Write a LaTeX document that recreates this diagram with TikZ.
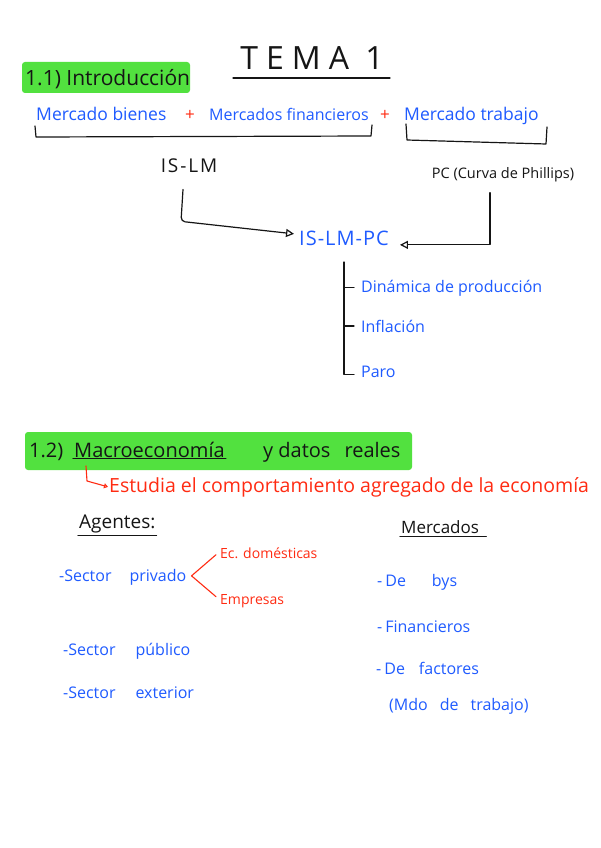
\documentclass[tikz,border=0pt]{standalone}
\usepackage{fontspec}
\setmainfont{Open Sans}
\usetikzlibrary{arrows.meta, positioning, calc}
\definecolor{inkblue}{HTML}{1F5BFF}
\definecolor{inkred}{HTML}{FF2B12}
\definecolor{inkmark}{HTML}{52E13F}
\definecolor{inkdark}{HTML}{151515}

\begin{document}
\begin{tikzpicture}[x=1pt, y=-1pt, line cap=round, line join=round,
  pen/.style={draw=inkdark, line width=1.2pt},
  txtblue/.style={text=inkblue, inner sep=1pt, font=\fontsize{16}{18}\selectfont},
  txtred/.style={text=inkred, inner sep=1pt, font=\fontsize{17}{19}\selectfont},
  txtdark/.style={text=inkdark, inner sep=1pt, font=\fontsize{15}{17}\selectfont},
  txthead/.style={text=inkdark, inner sep=1pt, font=\fontsize{20}{22}\selectfont},
  openhead/.style={-{Triangle[open, length=8pt, width=8pt]}}]
  \fill[white] (0,0) rectangle (600,848);
  \useasboundingbox (0,0) rectangle (600,848);
  \fill[inkmark, rounded corners=3pt] (22,62) rectangle (190,93);
  \fill[inkmark, rounded corners=3pt] (25,432) rectangle (412,470);

  \node[txthead, font=\fontsize{32}{34}\selectfont\addfontfeatures{LetterSpace=25}, anchor=base]
    (tema) at (312,70) {TEMA 1};
  \draw[pen] (233,78) -- (390,78);
  \node[txthead, font=\fontsize{21}{23}\selectfont, anchor=base west] (intro) at (24,86) {1.1) Introducción};

  \node[txtblue, font=\fontsize{17.5}{19}\selectfont, anchor=base west] (bienes) at (35,121) {Mercado bienes};
  \node[txtred, anchor=base] (plusa) at (190,121) {+};
  \node[txtblue, anchor=base west] (finan) at (208,121) {Mercados financieros};
  \node[txtred, anchor=base] (plusb) at (385,121) {+};
  \node[txtblue, font=\fontsize{17.5}{19}\selectfont, anchor=base west] (trabajo) at (403,121) {Mercado trabajo};
  \draw[pen] (35,126) -- (36,137) -- (371,136) -- (372,125);
  \draw[pen] (406,124) -- (407,140) -- (546,144) -- (547,127);

  \node[txtdark, font=\fontsize{19}{21}\selectfont\addfontfeatures{LetterSpace=10}, anchor=base]
    (islm) at (189,172) {IS-LM};
  \node[txtdark, font=\fontsize{14.5}{16}\selectfont, anchor=base] (pc) at (503,178) {PC (Curva de Phillips)};
  \node[txtblue, font=\fontsize{20}{22}\selectfont\addfontfeatures{LetterSpace=5}, anchor=base]
    (islmpc) at (344,245) {IS-LM-PC};

  \draw[pen, openhead, rounded corners=4pt]
    ($(islm.south)+(-6,16)$) -- ++(-2,32) -- ($(islmpc.west)+(-4,-4)$);
  \draw[pen, openhead]
    ($(pc.south)+(-13,10)$) |- ($(islmpc.east)+(10,7)$);

  \node[txtblue, anchor=base west] (dinamica) at (360,292) {Dinámica de producción};
  \node[txtblue, anchor=base west] (inflacion) at (360,332) {Inflación};
  \node[txtblue, anchor=base west] (paro) at (360,377) {Paro};
  \coordinate (tree) at (344,262);
  \draw[pen] (tree) |- ($(paro.west)+(-6,3)$);
  \foreach \item in {dinamica, inflacion}{%
    \draw[pen] (\item.west -| tree) -- ($(\item.west)+(-6,0)$);}

  \node[txthead, anchor=base west] (sec) at (28,457) {1.2)};
  \node[txthead, anchor=base west] (macro) at (73,457) {Macroeconomía};
  \draw[pen] (macro.south west) -- (macro.south east);
  \node[txthead, anchor=base west] (datos) at (262,457) {y datos\hspace{14pt}reales};

  \node[txtred, font=\fontsize{19.5}{21}\selectfont, anchor=base west] (estudia) at (108,492)
    {Estudia el comportamiento agregado de la economía};
  \draw[draw=inkred, line width=1.1pt, -{Triangle[open, length=4pt, width=5pt]}]
    (86,466) -- (87,481) -- (estudia.west);

  \node[txthead, font=\fontsize{19}{21}\selectfont, anchor=base west] (agentes) at (78,528) {Agentes:};
  \draw[pen] ($(agentes.south west)+(0,2)$) -- ($(agentes.south east)+(0,2)$);
  \node[txthead, font=\fontsize{17}{19}\selectfont, anchor=base west] (mercados) at (400,533) {Mercados};
  \draw[pen] ($(mercados.south west)+(0,2)$) -- ($(mercados.south east)+(6,2)$);

  \node[txtblue, anchor=base west] (privado) at (58,581) {-Sector\hspace{18pt}privado};
  \node[txtred, font=\fontsize{14}{16}\selectfont, anchor=base west] (domest) at (219,558) {Ec. domésticas};
  \node[txtred, font=\fontsize{14}{16}\selectfont, anchor=base west] (empresas) at (219,604) {Empresas};
  \draw[draw=inkred, line width=1.1pt]
    ($(domest.west)+(-3,2)$) -- ($(privado.east)+(4,-1)$) -- ($(empresas.west)+(-3,-4)$);
  \node[txtblue, anchor=base west] (publico) at (62,655) {-Sector\hspace{20pt}público};
  \node[txtblue, anchor=base west] (exterior) at (62,698) {-Sector\hspace{20pt}exterior};

  \node[txtblue, anchor=base west] (bys) at (376,586) {-\hspace{3pt}De\hspace{26pt}bys};
  \node[txtblue, anchor=base west] (financ) at (376,632) {-\hspace{3pt}Financieros};
  \node[txtblue, anchor=base west] (factores) at (375,674) {-\hspace{3pt}De\hspace{14pt}factores};
  \node[txtblue, anchor=base west] (mdo) at (388,710) {(Mdo\hspace{12pt}de\hspace{12pt}trabajo)};
\end{tikzpicture}
\end{document}
